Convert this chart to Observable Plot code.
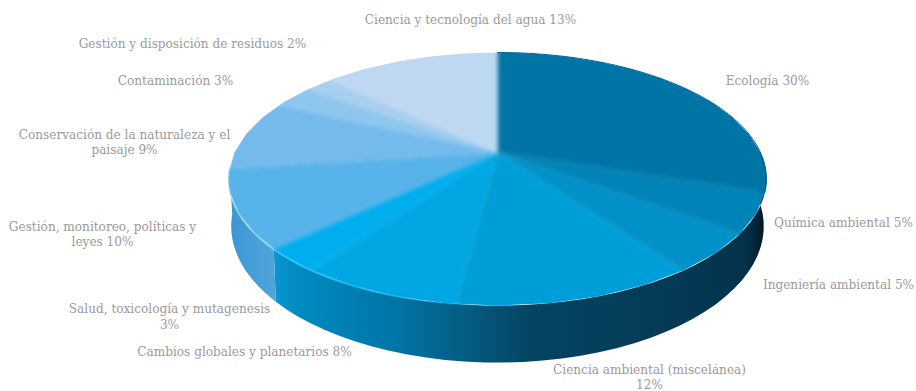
<!DOCTYPE html>
<html lang="es">
<head>
<meta charset="utf-8">
<script src="https://cdn.jsdelivr.net/npm/d3@7"></script>
<script src="https://cdn.jsdelivr.net/npm/@observablehq/plot@0.6"></script>
<style>
  html, body { margin: 0; padding: 0; background: #fff; }
  svg { display: block; }
</style>
</head>
<body>
<div id="chart"></div>
<script>
// Subject areas, clockwise from twelve o'clock
const categories = [
  "Ecología",
  "Química ambiental",
  "Ingeniería ambiental",
  "Ciencia ambiental (miscelánea)",
  "Cambios globales y planetarios",
  "Salud, toxicología y mutagenesis",
  "Gestión, monitoreo, políticas y leyes",
  "Conservación de la naturaleza y el paisaje",
  "Contaminación",
  "Gestión y disposición de residuos",
  "Ciencia y tecnología del agua"
];
const shares = [30, 5, 5, 12, 8, 3, 10, 9, 3, 2, 13];
const faceColors = [
  "#0074a5", "#0083b6", "#0091c8", "#009ed8", "#00a7e3", "#00aeee",
  "#58b3ea", "#74bbec", "#8fc6ee", "#a8cfef", "#bfd8f1"
];

// Where each label sits and where its text wraps
const labelX = [767, 843, 838, 649, 244, 169, 102, 124, 175, 192, 470];
const labelY = [80, 222, 284, 376, 351, 315.5, 233, 141, 80, 43, 19];
const labelBreakAfter = [null, null, null, 30, null, 32, 31, 34, null, null, null];

// Tilted-disc perspective for the pie
const cx = 497, cy = 152, spanX = 263, spanY = 121, tilt = 0.2095;
const wallDepth = 57, wallNarrowing = 0.99;
const depthScale = a => 1 / (1 + tilt * Math.cos(a));
const rimX = a => cx + spanX * Math.sin(a) * depthScale(a);
const rimY = a => cy - spanY * Math.cos(a) * depthScale(a);
const baseX = a => cx + (rimX(a) - cx) * wallNarrowing;
const baseY = a => rimY(a) + wallDepth * depthScale(a) / depthScale(Math.PI);

const toAngle = d3.scaleLinear().domain([0, d3.sum(shares)]).range([0, 2 * Math.PI]);
const running = d3.cumsum(shares);
const slices = categories.map((name, i) => ({
  name,
  color: faceColors[i],
  start: toAngle(running[i] - shares[i]),
  end: toAngle(running[i])
}));

const arcSteps = (a0, a1) => d3.range(0, 41).map(k => a0 + (a1 - a0) * k / 40);

// Slices reach a little past the rim so the softened seams stay opaque up to the clip edge
const overshoot = 1.04;
const facePoints = slices.flatMap(s => [
  {name: s.name, color: s.color, x: cx, y: cy},
  ...arcSteps(s.start, s.end).map(a => ({
    name: s.name,
    color: s.color,
    x: cx + (rimX(a) - cx) * overshoot,
    y: cy + (rimY(a) - cy) * overshoot
  }))
]);

// Front wall outline between two angles
const wallPoints = (a0, a1) => [
  ...arcSteps(a0, a1).map(a => ({x: rimX(a), y: rimY(a)})),
  ...arcSteps(a1, a0).map(a => ({x: baseX(a), y: baseY(a)}))
];
const gestionSlice = slices[6];
const rimLine = (a0, a1) => arcSteps(a0, a1).map(a => ({x: rimX(a), y: rimY(a)}));

const labels = categories.map((name, i) => {
  const br = labelBreakAfter[i];
  const text = `${name} ${shares[i]}%`;
  return {
    text: br == null ? text : text.slice(0, br).trimEnd() + "\n" + text.slice(br).trimStart(),
    x: labelX[i],
    y: labelY[i]
  };
});

// Horizontal shading for the walls, the rim highlight and the face outline
function definitions() {
  const defs = d3.create("svg:defs");
  const add = (id, x1, x2, stops) => {
    const g = defs.append("linearGradient")
      .attr("id", id)
      .attr("gradientUnits", "userSpaceOnUse")
      .attr("x1", x1).attr("x2", x2).attr("y1", 0).attr("y2", 0);
    stops.forEach(([o, c, op]) => g.append("stop")
      .attr("offset", o).attr("stop-color", c).attr("stop-opacity", op ?? 1));
  };
  add("wallFront", 273, 766, [
    [0, "#0b95d0"], [0.06, "#008abf"], [0.25, "#0074a6"], [0.4, "#055a80"],
    [0.52, "#044562"], [0.8, "#053a57"], [0.96, "#04324b"], [1, "#011522"]
  ]);
  add("wallLeft", 229, 273, [[0, "#3b97d2"], [1, "#51a4da"]]);
  add("rimGlow", 229, 500, [
    [0, "#a5dcf8", 0.5], [0.16, "#8ad6f8", 0.9], [0.17, "#2fc5fa", 1],
    [0.45, "#1cb8f2", 0.9], [1, "#0ea6e2", 0]
  ]);
  defs.append("clipPath").attr("id", "faceClip").append("path")
    .attr("d", d3.line().x(d => d.x).y(d => d.y).curve(d3.curveLinearClosed)(rimLine(0, 2 * Math.PI)));
  return defs.node();
}

const clipToFace = (index, scales, values, dimensions, context, next) => {
  const g = next(index, scales, values, dimensions, context);
  g.setAttribute("clip-path", "url(#faceClip)");
  return g;
};

const plot = Plot.plot({
  width: 916,
  height: 391,
  margin: 0,
  x: {domain: [0, 916], range: [0, 916], axis: null},
  y: {domain: [0, 391], range: [0, 391], axis: null},
  color: {type: "identity"},
  style: {background: "#fff"},
  marks: [
    definitions,
    Plot.line(wallPoints(gestionSlice.start, Math.PI / 2), {
      x: "x", y: "y", curve: "linear-closed",
      fill: "url(#wallFront)", stroke: "none", imageFilter: "blur(0.6px)"
    }),
    Plot.line(wallPoints(gestionSlice.end, gestionSlice.start), {
      x: "x", y: "y", curve: "linear-closed",
      fill: "url(#wallLeft)", stroke: "none", imageFilter: "blur(0.6px)"
    }),
    Plot.line(facePoints, {
      x: "x", y: "y", z: "name", curve: "linear-closed",
      fill: "color", stroke: "none",
      imageFilter: "blur(1.9px)",
      render: clipToFace
    }),
    Plot.line(rimLine(Math.PI, gestionSlice.end), {
      x: "x", y: "y", stroke: "url(#rimGlow)", strokeWidth: 1.8,
      imageFilter: "blur(0.5px)"
    }),
    Plot.line(rimLine(0, slices[0].end), {
      x: "x", y: "y", stroke: "#00679a", strokeWidth: 1,
      imageFilter: "blur(0.5px)"
    }),
    Plot.text(labels, {
      x: "x", y: "y", text: "text",
      fontFamily: "'DejaVu Serif', serif",
      fontSize: 12.1,
      lineHeight: 1.28,
      fill: "#9a9a9a",
      textAnchor: "middle"
    })
  ]
});

document.getElementById("chart").append(plot);
</script>
</body>
</html>
